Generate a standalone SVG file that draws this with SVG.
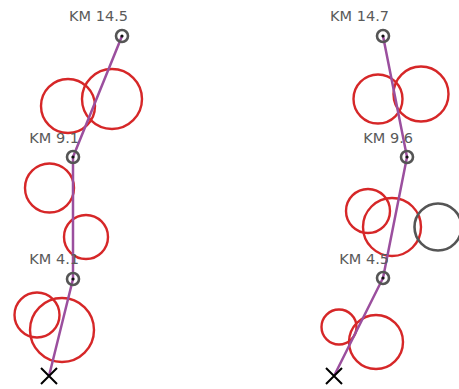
<svg xmlns="http://www.w3.org/2000/svg" width="459" height="389" viewBox="0 0 459 389">
<style>
.bg{fill:#fff}
.zone{fill:none;stroke:#d62728;stroke-width:2.4}
.zone-gray{fill:none;stroke:#555;stroke-width:2.6}
.route{fill:none;stroke:#9b4f9e;stroke-width:2.5;stroke-linejoin:round}
.km{fill:none;stroke:#555;stroke-width:2.6}
.dot{fill:#111}
.lbl{font-family:"DejaVu Sans",sans-serif;font-size:14.5px;fill:#5a5a5a;text-anchor:end}
.end{stroke:#000;stroke-width:2;fill:none}
</style>
<rect class="bg" width="459" height="389"/>
<g id="zones-left">
<circle class="zone" cx="68" cy="106" r="27"/>
<circle class="zone" cx="112" cy="99" r="30"/>
<circle class="zone" cx="49.5" cy="188" r="24.5"/>
<circle class="zone" cx="86" cy="237" r="22"/>
<circle class="zone" cx="37" cy="315" r="22.5"/>
<circle class="zone" cx="62" cy="330" r="32"/>
</g>
<g id="zones-right">
<circle class="zone" cx="378" cy="99" r="24.5"/>
<circle class="zone" cx="421" cy="94" r="27.5"/>
<circle class="zone" cx="368" cy="211" r="22"/>
<circle class="zone" cx="392" cy="227" r="29"/>
<circle class="zone-gray" cx="438" cy="227" r="23.5"/>
<circle class="zone" cx="339" cy="327" r="17.5"/>
<circle class="zone" cx="376" cy="342" r="27"/>
</g>
<g id="connectors">
<polyline class="route" points="122,36 73,157 73,279 49,376"/>
<polyline class="route" points="383,36 407,157 383,278 334,376"/>
</g>
<g id="km-14-5"><circle class="km" cx="122" cy="36" r="6"/><circle class="dot" cx="122" cy="36" r="1.6"/><text class="lbl" x="128" y="21">KM 14.5</text></g>
<g id="km-9-1"><circle class="km" cx="73" cy="157" r="6"/><circle class="dot" cx="73" cy="157" r="1.6"/><text class="lbl" x="79" y="143">KM 9.1</text></g>
<g id="km-4-1"><circle class="km" cx="73" cy="279" r="6"/><circle class="dot" cx="73" cy="279" r="1.6"/><text class="lbl" x="79" y="264">KM 4.1</text></g>
<g id="start-left"><path class="end" d="M41,368 L57,384 M57,368 L41,384"/></g>
<g id="km-14-7"><circle class="km" cx="383" cy="36" r="6"/><circle class="dot" cx="383" cy="36" r="1.6"/><text class="lbl" x="389" y="21">KM 14.7</text></g>
<g id="km-9-6"><circle class="km" cx="407" cy="157" r="6"/><circle class="dot" cx="407" cy="157" r="1.6"/><text class="lbl" x="413" y="143">KM 9.6</text></g>
<g id="km-4-5"><circle class="km" cx="383" cy="278" r="6"/><circle class="dot" cx="383" cy="278" r="1.6"/><text class="lbl" x="389" y="264">KM 4.5</text></g>
<g id="start-right"><path class="end" d="M326,368 L342,384 M342,368 L326,384"/></g>
</svg>
